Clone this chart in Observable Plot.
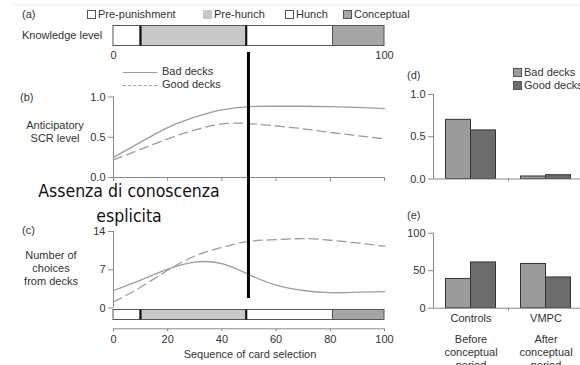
<!DOCTYPE html>
<html><head><meta charset="utf-8">
<script src="https://cdn.jsdelivr.net/npm/d3@7"></script>
<script src="https://cdn.jsdelivr.net/npm/@observablehq/plot@0.6"></script>
<style>
html,body{margin:0;padding:0;overflow:hidden;background:#fff;}
#fig{position:relative;width:580px;height:365px;overflow:hidden;font-family:"Liberation Sans",Arial,sans-serif;font-size:11px;color:#333;}
#fig svg{position:absolute;}
.t{position:absolute;white-space:nowrap;line-height:11px;}
.c{text-align:center;}
.sq{position:absolute;width:7px;height:7px;border:1px solid #555;}
.ln{position:absolute;width:34px;height:0;}
.anno{position:absolute;font-family:"DejaVu Sans Condensed","DejaVu Sans",sans-serif;font-size:17.5px;line-height:18px;color:#111;text-align:center;white-space:nowrap;}
</style></head><body><div id="fig"></div>
<script>
// ---------------- data ----------------
const phases = ["Pre-punishment", "Pre-hunch", "Hunch", "Conceptual"];
const phaseStart = [0, 10, 49, 81];
const phaseEnd = [10, 49, 81, 100];
const seqTicks = [0, 20, 40, 60, 80, 100];
const seq = [0, 10, 20, 30, 40, 50, 60, 70, 80, 90, 100];
const scrBad  = [0.25, 0.44, 0.62, 0.75, 0.84, 0.88, 0.885, 0.885, 0.88, 0.87, 0.855];
const scrGood = [0.22, 0.35, 0.48, 0.59, 0.665, 0.67, 0.64, 0.605, 0.56, 0.52, 0.48];
const choiceBad  = [3.2, 5.1, 7.1, 8.4, 8.1, 6.1, 4.2, 3.2, 2.8, 2.9, 3.0];
const choiceGood = [1.1, 3.8, 6.9, 9.5, 11.1, 12.2, 12.5, 12.7, 12.4, 11.9, 11.3];
const scrTicks = [0, 0.5, 1];
const choiceTicks = [0, 7, 14];
const groups = ["Controls", "VMPC"];
const groupNotes = ["Before\nconceptual\nperiod", "After\nconceptual\nperiod"];
const decks = ["Bad decks", "Good decks"];
const scrMeanBad  = [0.70, 0.03];
const scrMeanGood = [0.575, 0.045];
const pctBad  = [39, 59];
const pctGood = [61, 41];
const pctTicks = [0, 50, 100];
const markerSeq = [49.8];
const annotation = ["Assenza di conoscenza", "esplicita"];

// ---------------- styles ----------------
const phaseColors = ["#ffffff", "#c8c8c8", "#ffffff", "#a5a5a5"];
const deckBarColors = ["#9b9b9b", "#6c6c6c"];
const curveColor = "#9d9d9d";
const axisColor = "#8a8a8a";
const fig = document.getElementById("fig");
const baseStyle = {background: "transparent", fontFamily: "'Liberation Sans', Arial, sans-serif", fontSize: "11px", color: "#333", overflow: "visible"};
function place(svg, left, top) { svg.style.left = left + "px"; svg.style.top = top + "px"; fig.appendChild(svg); }
function label(text, left, top, cls = "t") { const d = document.createElement("div"); d.className = cls; d.style.left = left + "px"; d.style.top = top + "px"; d.textContent = text; fig.appendChild(d); return d; }

const segs = phases.map((p, i) => ({phase: p, x1: phaseStart[i], x2: phaseEnd[i]}));
const phaseScale = {domain: phases, range: phaseColors};
const innerDividers = phaseStart.slice(1, 3);
const W = 400, ML = 113, MR = 16;
const xSeq = {domain: [0, 100]};

function knowledgeMarks() {
  return [
    Plot.rect(segs, {x1: "x1", x2: "x2", fill: "phase", stroke: "#555", strokeWidth: 1}),
    Plot.ruleX(innerDividers, {stroke: "#111", strokeWidth: 2})
  ];
}

// faint top border
const hr = document.createElement("div");
hr.style.cssText = "position:absolute;left:13px;top:4px;width:567px;height:0;border-top:1px solid #ececec;";
fig.appendChild(hr);

// ---------------- (a) knowledge level ----------------
place(Plot.plot({
  width: W, height: 62, marginLeft: ML, marginRight: MR, marginTop: 25.5, marginBottom: 16.5,
  style: baseStyle, x: xSeq, color: phaseScale,
  marks: [
    ...knowledgeMarks(),
    Plot.axisX([0, 100], {tickSize: 0, tickPadding: 5, label: null, fill: "#333"})
  ]
}), 0, 0);
label("(a)", 22, 9);
label("Knowledge level", 22, 30);
// legend (a)
const legA = [[87, 98], [203, 214], [285, 296], [343, 354]];
phases.forEach((p, i) => {
  const s = document.createElement("div");
  s.className = "sq";
  s.style.left = legA[i][0] + "px"; s.style.top = "10px";
  s.style.background = phaseColors[i];
  if (i === 1) s.style.borderColor = phaseColors[i];
  fig.appendChild(s);
  label(p, legA[i][1], 9);
});

// ---------------- (b) anticipatory SCR ----------------
const scrBadData = seq.map((s, i) => ({seq: s, v: scrBad[i], deck: decks[0]}));
const scrGoodData = seq.map((s, i) => ({seq: s, v: scrGood[i], deck: decks[1]}));
place(Plot.plot({
  width: W, height: 125, marginLeft: ML, marginRight: MR, marginTop: 36.5, marginBottom: 8,
  style: baseStyle, x: xSeq, y: {domain: [0, 1]},
  marks: [
    Plot.ruleX([0], {stroke: axisColor}),
    Plot.ruleY([0], {stroke: axisColor}),
    Plot.axisY(scrTicks, {tickSize: 5, tickPadding: 3, tickFormat: d3.format(".1f"), stroke: axisColor, fill: "#333", label: null}),
    Plot.axisX(seqTicks, {tickSize: 4, stroke: axisColor, fill: "none", label: null}),
    Plot.line(scrBadData, {x: "seq", y: "v", curve: "natural", stroke: curveColor, strokeWidth: 1.3}),
    Plot.line(scrGoodData, {x: "seq", y: "v", curve: "natural", stroke: curveColor, strokeWidth: 1.3, strokeDasharray: "9,5"})
  ]
}), 0, 60);
label("(b)", 20, 92);
label("Anticipatory", 25, 120, "t c").style.width = "60px";
label("SCR level", 25, 133, "t c").style.width = "60px";
// legend (b)
[["solid", 72], ["dashed", 85]].forEach(([st, y], i) => {
  const l = document.createElement("div");
  l.className = "ln";
  l.style.left = "123px"; l.style.top = y + "px";
  l.style.borderTop = "1.3px " + st + " " + curveColor;
  fig.appendChild(l);
  label(decks[i], 162, y - 6);
});

// ---------------- (c) number of choices ----------------
const chBad = seq.map((s, i) => ({seq: s, v: choiceBad[i]}));
const chGood = seq.map((s, i) => ({seq: s, v: choiceGood[i]}));
place(Plot.plot({
  width: W, height: 92, marginLeft: ML, marginRight: MR, marginTop: 11, marginBottom: 4.5,
  style: baseStyle, x: {...xSeq, axis: null}, y: {domain: [0, 14]},
  marks: [
    Plot.ruleX([0], {stroke: axisColor}),
    Plot.axisY(choiceTicks, {tickSize: 5, tickPadding: 3, stroke: axisColor, fill: "#333", label: null}),
    Plot.line(chBad, {x: "seq", y: "v", curve: "natural", stroke: curveColor, strokeWidth: 1.3}),
    Plot.line(chGood, {x: "seq", y: "v", curve: "natural", stroke: curveColor, strokeWidth: 1.3, strokeDasharray: "9,5"})
  ]
}), 0, 220);
label("(c)", 22, 225);
label("Number of", 20, 250, "t c").style.width = "62px";
label("choices", 20, 263, "t c").style.width = "62px";
label("from decks", 20, 276, "t c").style.width = "62px";

// knowledge bar under (c)
place(Plot.plot({
  width: W, height: 25, marginLeft: ML, marginRight: MR, marginTop: 9.5, marginBottom: 5.5,
  style: baseStyle, x: {...xSeq, axis: null}, color: phaseScale,
  marks: knowledgeMarks()
}), 0, 300);

// x axis under (c)
place(Plot.plot({
  width: W, height: 45, marginLeft: ML, marginRight: MR, marginTop: 0, marginBottom: 36.7,
  style: baseStyle, x: xSeq, y: {domain: [0, 1], axis: null},
  marks: [
    Plot.ruleY([0], {stroke: axisColor}),
    Plot.axisX(seqTicks, {tickSize: 3, tickPadding: 3.5, stroke: axisColor, fill: "#333", label: null})
  ]
}), 0, 320);
label("Sequence of card selection", 150, 349, "t c").style.width = "200px";

// ---------------- (d) & (e) bar panels ----------------
const barOffsets = [[1/6, 1/2], [1/2, 5/6]];
function barData(bad, good) {
  const out = [];
  groups.forEach((g, gi) => {
    [bad, good].forEach((arr, di) => out.push({group: g, deck: decks[di], v: arr[gi], x1: gi + barOffsets[di][0], x2: gi + barOffsets[di][1]}));
  });
  return out;
}
const deckScale = {domain: decks, range: deckBarColors};
function barMarks(data, ticks, fmt) {
  return [
    Plot.rectY(data, {x1: "x1", x2: "x2", y: "v", fill: "deck", stroke: "#333", strokeWidth: 1}),
    Plot.ruleX([0], {stroke: axisColor}),
    Plot.ruleY([0], {stroke: axisColor}),
    Plot.axisY(ticks, {tickSize: 5, tickPadding: 3, tickFormat: fmt, stroke: axisColor, fill: "#333", label: null}),
    Plot.axisX([1], {tickSize: 3, stroke: axisColor, fill: "none", label: null})
  ];
}
place(Plot.plot({
  width: 183, height: 125, marginLeft: 33, marginRight: 0, marginTop: 34, marginBottom: 6.5,
  style: baseStyle, x: {domain: [0, 2]}, y: {domain: [0, 1]}, color: deckScale,
  marks: barMarks(barData(scrMeanBad, scrMeanGood), scrTicks, d3.format(".1f"))
}), 400, 60);
label("(d)", 407, 70);
// legend (d)
decks.forEach((d, i) => {
  const s = document.createElement("div");
  s.className = "sq";
  s.style.left = "513px"; s.style.top = (68 + 13 * i) + "px";
  s.style.background = deckBarColors[i];
  fig.appendChild(s);
  label(d, 524, 67 + 13 * i);
});

const groupLabelData = groups.map((g, gi) => ({g, pos: gi + 0.5, note: groupNotes[gi]}));
place(Plot.plot({
  width: 183, height: 165, marginLeft: 33, marginRight: 0, marginTop: 32.7, marginBottom: 57.3,
  style: baseStyle, x: {domain: [0, 2]}, y: {domain: [0, 100]}, color: deckScale,
  marks: [
    ...barMarks(barData(pctBad, pctGood), pctTicks, d3.format("d")),
    Plot.text(groupLabelData, {x: "pos", text: "g", frameAnchor: "bottom", dy: 10.5, lineAnchor: "middle", fill: "#333", fontSize: 11}),
    Plot.text(groupLabelData, {x: "pos", text: "note", frameAnchor: "bottom", dy: 25, lineAnchor: "top", lineHeight: 1.2, fill: "#333", fontSize: 11})
  ]
}), 400, 200);
label("(e)", 407, 210);

// ---------------- annotation overlay ----------------
place(Plot.plot({
  width: W, height: 298, marginLeft: ML, marginRight: MR, marginTop: 52, marginBottom: 0,
  style: baseStyle, x: {...xSeq, axis: null},
  marks: [Plot.ruleX(markerSeq, {stroke: "#000", strokeWidth: 3})]
}), 0, 0);
annotation.forEach((line, i) => {
  const an = document.createElement("div");
  an.className = "anno";
  an.style.left = "29px"; an.style.top = (181.5 + 25 * i) + "px"; an.style.width = "200px";
  an.textContent = line;
  fig.appendChild(an);
});
</script></body></html>
